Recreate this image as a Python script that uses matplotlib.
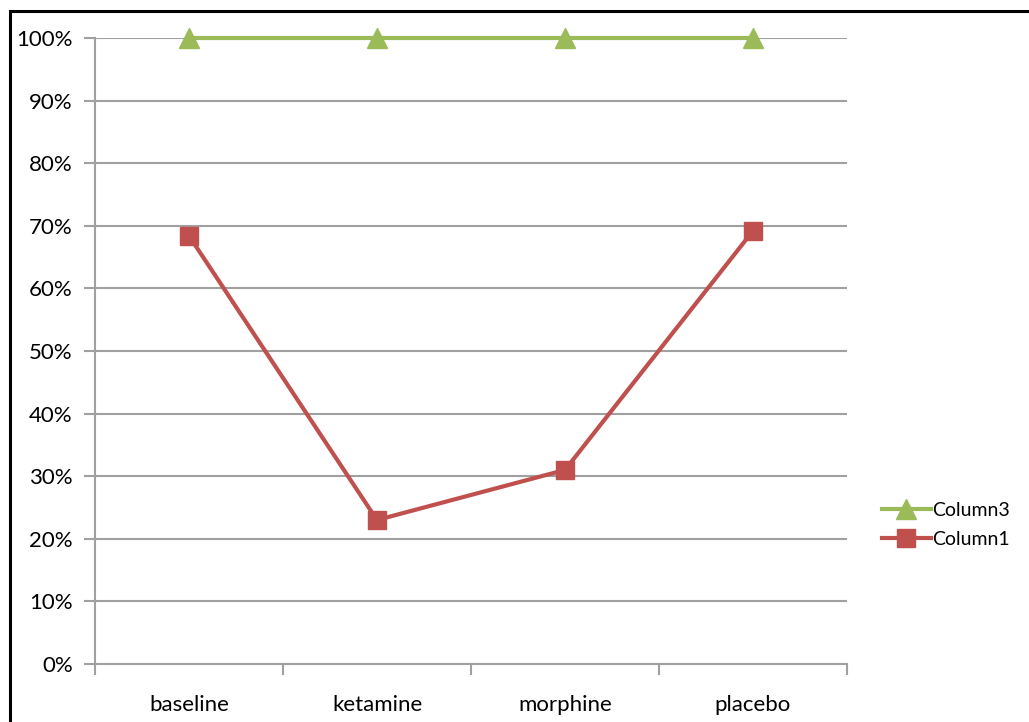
import matplotlib.pyplot as plt
from matplotlib.patches import Rectangle
from matplotlib.ticker import PercentFormatter

categories = ['baseline', 'ketamine', 'morphine', 'placebo']
column3 = [100, 100, 100, 100]
column1 = [68.4, 23.0, 31.0, 69.2]

plt.rcParams['font.family'] = ['Lato', 'DejaVu Sans']

fig = plt.figure(figsize=(10.29, 7.22), dpi=100)
ax = fig.add_axes([95 / 1029, 1 - 664 / 722, (847 - 95) / 1029, (664 - 38) / 722])

# figure border (only top and left visible)
fig.patches.append(Rectangle((10 / 1029, -0.1), 1.2, 1 - 11 / 722 + 0.1,
                             transform=fig.transFigure, fill=False,
                             edgecolor='black', linewidth=2.2))

x = range(len(categories))
ax.plot(x, column3, color='#9BBB59', lw=3, marker='^', ms=15, label='Column3', clip_on=False, zorder=3)
ax.plot(x, column1, color='#C0504D', lw=3, marker='s', ms=13, label='Column1', clip_on=False, zorder=3)

ax.set_xlim(-0.5, 3.5)
ax.set_ylim(0, 100)
ax.set_yticks(range(0, 101, 10))
ax.yaxis.set_major_formatter(PercentFormatter(decimals=0))
ax.set_xticks(x)
ax.set_xticklabels(categories)
ax.set_xticks([-0.5, 0.5, 1.5, 2.5, 3.5], minor=True)
ax.tick_params(axis='x', which='major', length=0, pad=22, labelsize=16)
ax.tick_params(axis='x', which='minor', length=8, color='#A0A0A0', width=1.5)
ax.tick_params(axis='y', length=8, color='#A0A0A0', width=1.5, labelsize=16, pad=8)
ax.grid(axis='y', color='#A0A0A0', lw=1.5)
ax.set_axisbelow(True)
for s in ['top', 'right']:
    ax.spines[s].set_visible(False)
for s in ['left', 'bottom']:
    ax.spines[s].set_color('#A0A0A0')
    ax.spines[s].set_linewidth(1.5)

fig.legend(loc='center left', bbox_to_anchor=(878 / 1029, 1 - 525 / 722), frameon=False,
           fontsize=14, handlelength=2.5, handletextpad=0.1, labelspacing=0.6,
           borderaxespad=0, borderpad=0.2)

fig.savefig('out.png', dpi=100)
